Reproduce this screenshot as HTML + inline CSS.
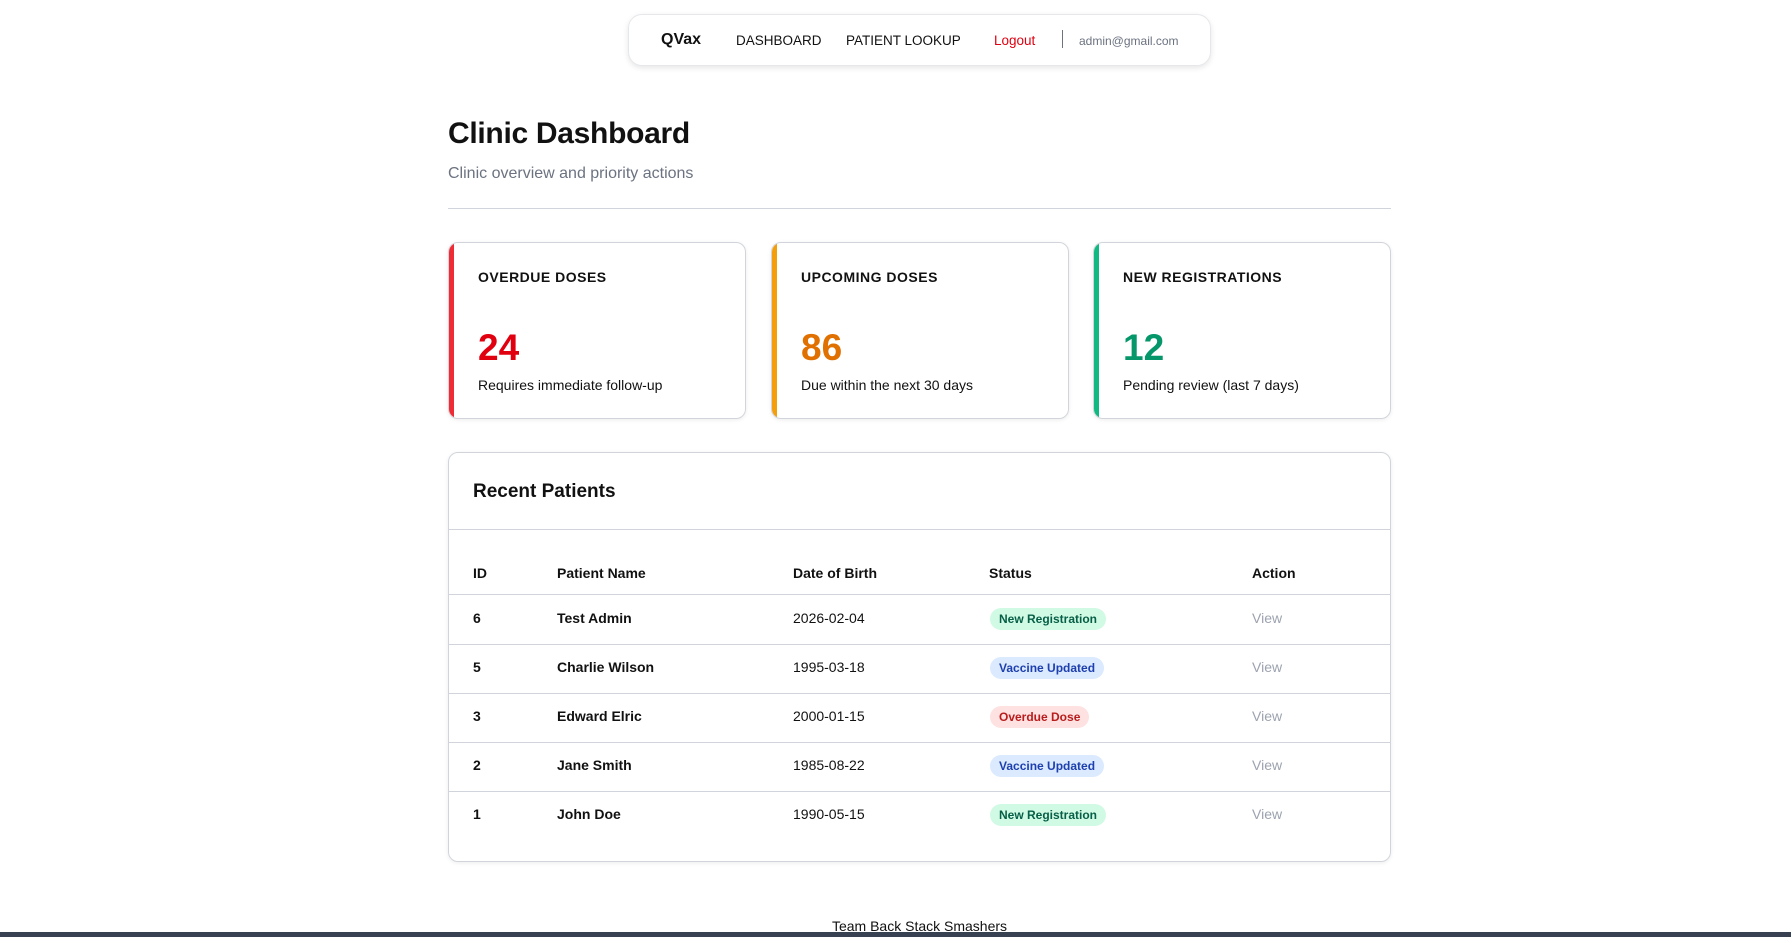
<!DOCTYPE html>
<html><head><meta charset="utf-8"><style>
*{box-sizing:border-box;margin:0;padding:0}
body{width:1791px;height:937px;background:#fff;font-family:"Liberation Sans",Arial,sans-serif;color:#111;position:relative;overflow:hidden}
.nav{position:absolute;left:628px;top:14px;width:583px;height:52px;border:1px solid #e5e7eb;border-radius:14px;box-shadow:0 2px 6px rgba(0,0,0,.1);font-size:13.5px}
.nav span{position:absolute;top:18px;white-space:nowrap}
.title{position:absolute;left:448px;top:117px;font-size:30px;font-weight:bold;letter-spacing:-0.3px}
.sub{position:absolute;left:448px;top:165px;font-size:16px;color:#6b7280}
.hr{position:absolute;left:448px;top:208px;width:943px;height:1px;background:#d1d5db}
.card{position:absolute;top:242px;width:298px;height:177px;border:1px solid #d1d5db;border-radius:10px;box-shadow:0 1px 4px rgba(0,0,0,.08);overflow:hidden}
.card .bar{position:absolute;left:0;top:0;bottom:0;width:5px}
.card .lab{position:absolute;left:29px;top:26px;font-size:14px;font-weight:bold;letter-spacing:0.5px}
.card .num{position:absolute;left:29px;top:84px;font-size:37px;font-weight:bold}
.card .desc{position:absolute;left:29px;top:134px;font-size:14px}
.tbl{position:absolute;left:448px;top:452px;width:943px;height:410px;border:1px solid #d1d5db;border-radius:10px;box-shadow:0 1px 4px rgba(0,0,0,.08)}
.tbl h2{position:absolute;left:24px;top:28px;font-size:19px;font-weight:bold}
.line{position:absolute;left:0;right:0;height:1px;background:#d1d5db}
.cell{position:absolute;font-size:14px;white-space:nowrap}
.hd{font-weight:bold}
.badge{position:absolute;font-size:12px;font-weight:bold;padding:4px 9px;border-radius:11px}
.foot{position:absolute;left:448px;width:943px;top:918px;text-align:center;font-size:14px}
.dark{position:absolute;left:0;top:932px;width:1791px;height:5px;background:#374151}
</style></head><body>
<div class="nav">
<span style="left:32px;font-weight:bold;font-size:16px;top:16px">QVax</span>
<span style="left:107px">DASHBOARD</span>
<span style="left:217px">PATIENT LOOKUP</span>
<span style="left:365px;color:#e00010">Logout</span>
<span style="left:433px;top:15px;width:1px;height:18px;background:#6b7280"></span>
<span style="left:450px;font-size:12px;color:#6b7280;top:19px">admin@gmail.com</span>
</div>
<div class="title">Clinic Dashboard</div>
<div class="sub">Clinic overview and priority actions</div>
<div class="hr"></div>

<div class="card" style="left:448px"><div class="bar" style="background:#ef2b35"></div><div class="lab">OVERDUE DOSES</div><div class="num" style="color:#e00010">24</div><div class="desc">Requires immediate follow-up</div></div>
<div class="card" style="left:771px"><div class="bar" style="background:#f59e0b"></div><div class="lab">UPCOMING DOSES</div><div class="num" style="color:#e07000">86</div><div class="desc">Due within the next 30 days</div></div>
<div class="card" style="left:1093px"><div class="bar" style="background:#10b981"></div><div class="lab">NEW REGISTRATIONS</div><div class="num" style="color:#059669">12</div><div class="desc">Pending review (last 7 days)</div></div>

<div class="tbl">
<h2>Recent Patients</h2>
<div class="line" style="top:76px"></div>
<div class="cell hd" style="left:24px;top:112px">ID</div>
<div class="cell hd" style="left:108px;top:112px">Patient Name</div>
<div class="cell hd" style="left:344px;top:112px">Date of Birth</div>
<div class="cell hd" style="left:540px;top:112px">Status</div>
<div class="cell hd" style="left:803px;top:112px">Action</div>
<div class="line" style="top:141px"></div>
</div>
<div class="foot">Team Back Stack Smashers</div>
<div class="dark"></div>
<script>
const ids=["6","5","3","2","1"];
const names=["Test Admin","Charlie Wilson","Edward Elric","Jane Smith","John Doe"];
const dobs=["2026-02-04","1995-03-18","2000-01-15","1985-08-22","1990-05-15"];
const statuses=["New Registration","Vaccine Updated","Overdue Dose","Vaccine Updated","New Registration"];
const styles={"New Registration":["#d1fae5","#065f46"],"Vaccine Updated":["#dbeafe","#1e40af"],"Overdue Dose":["#fee2e2","#b91c1c"]};
const host=document.querySelector('.tbl');
ids.forEach((id,i)=>{
 const y=142+i*49, cy=y+24;
 const mk=(txt,x,cls,name,inter)=>{const d=document.createElement('div');d.className=cls;d.textContent=txt;d.style.left=x+'px';d.style.top=(cy-9)+'px';
 
 
 host.appendChild(d);return d;};
 mk(id,24,'cell','patient-id','false').style.fontWeight='bold';
 mk(names[i],108,'cell','patient-name','false').style.fontWeight='bold';
 mk(dobs[i],344,'cell','patient-dob','false');
 const b=mk(statuses[i],541,'badge','status-badge','false');b.style.top=(cy-11)+'px';b.style.background=styles[statuses[i]][0];b.style.color=styles[statuses[i]][1];
 const v=mk('View',803,'cell','view-link','true');v.style.color='#9ca3af';
 if(i<4){const l=document.createElement('div');l.className='line';l.style.top=(y+49)+'px';
 
 
 host.appendChild(l);}
});
</script>
</body></html>
